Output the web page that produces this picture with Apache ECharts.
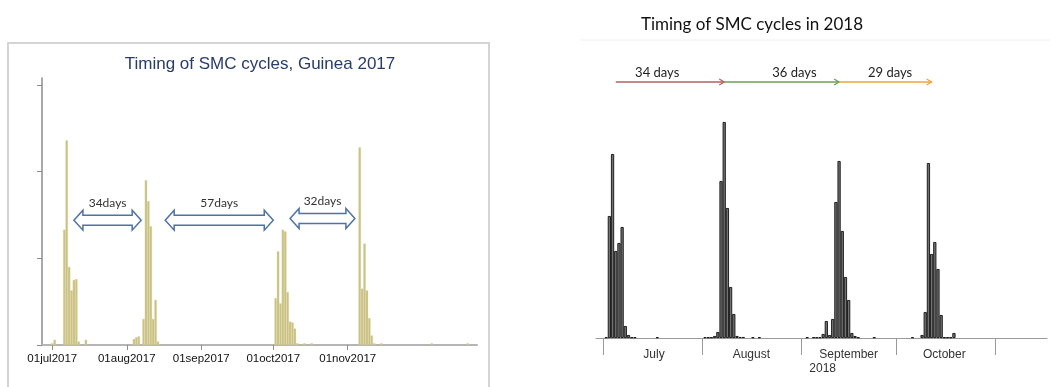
<!DOCTYPE html>
<html>
<head>
<meta charset="utf-8">
<title>Timing of SMC cycles</title>
<script src="https://cdn.jsdelivr.net/npm/echarts@6/dist/echarts.min.js"></script>
<style>
html, body { margin: 0; padding: 0; background: #fff; }
#echarts { width: 1050px; height: 387px; }
</style>
</head>
<body>
<div id="echarts"></div>
<script>
// ---- Guinea 2017 (left panel), daily counts ----
var dates2017 = ['2017-07-01','2017-07-02','2017-07-06','2017-07-07','2017-07-08','2017-07-09','2017-07-10','2017-07-11','2017-07-12','2017-07-15',
    '2017-08-04','2017-08-05','2017-08-06','2017-08-08','2017-08-09','2017-08-10','2017-08-11','2017-08-12','2017-08-13','2017-08-14',
    '2017-10-02','2017-10-03','2017-10-04','2017-10-05','2017-10-06','2017-10-07','2017-10-08','2017-10-09','2017-10-10','2017-10-11','2017-10-14','2017-10-17',
    '2017-11-06','2017-11-07','2017-11-08','2017-11-09','2017-11-10','2017-11-11','2017-11-12','2017-11-15','2017-12-06','2017-12-21'];
var values2017 = [2, 6, 133, 236, 90, 63, 75, 76, 4, 6,
    7, 9, 10, 30, 190, 166, 137, 30, 52, 4,
    54, 108, 48, 133, 131, 61, 27, 26, 19, 2, 2, 2,
    228, 65, 117, 63, 31, 11, 2, 2, 2, 2];
var axisRange2017 = ['2017-06-26 17:00', '2017-12-24 20:00'];
var tickDates2017 = ['2017-07-01', '2017-08-01', '2017-09-01', '2017-10-01', '2017-11-01'];
var tickLabels2017 = ['01jul2017', '01aug2017', '01sep2017', '01oct2017', '01nov2017'];
var yTicks2017 = [0, 100, 200, 300];
// gaps between cycles (double arrows)
var gapStart2017 = ['2017-07-10', '2017-08-17', '2017-10-08'];
var gapEnd2017 = ['2017-08-07', '2017-10-01', '2017-11-04'];
var gapLevel2017 = [144, 144, 146];
var gapLabels2017 = ['34days', '57days', '32days'];

// ---- 2018 (right panel) ----
var dates2018 = ['2018-07-02','2018-07-03','2018-07-04','2018-07-05','2018-07-06','2018-07-07','2018-07-08','2018-07-09','2018-07-10','2018-07-11','2018-07-18',
    '2018-08-02','2018-08-03','2018-08-04','2018-08-05','2018-08-06','2018-08-07','2018-08-08','2018-08-09','2018-08-10','2018-08-11','2018-08-12','2018-08-13','2018-08-14','2018-08-17','2018-08-19',
    '2018-09-03','2018-09-05','2018-09-06','2018-09-07','2018-09-08','2018-09-09','2018-09-10','2018-09-11','2018-09-12','2018-09-13','2018-09-14','2018-09-15','2018-09-16','2018-09-17','2018-09-18','2018-09-19','2018-09-24',
    '2018-10-06','2018-10-09','2018-10-10','2018-10-11','2018-10-12','2018-10-13','2018-10-14','2018-10-15','2018-10-16','2018-10-17','2018-10-18','2018-10-19'];
var values2018 = [0.7, 122, 184, 87, 95, 111, 12, 3, 0.7, 0.7, 0.7,
    0.7, 0.7, 0.7, 2, 6, 157, 216, 130, 51, 24, 2, 1, 1, 0.7, 0.7,
    0.7, 0.7, 0.7, 0.7, 4, 17, 3, 19, 136, 177, 107, 61, 38, 5, 2, 0.7, 0.7,
    0.7, 3, 26, 175, 84, 96, 69, 23, 0.7, 0.7, 0.7, 5];
var axisRange2018 = ['2018-06-28 19:30', '2018-11-17 04:00'];
var monthStarts2018 = ['2018-07-01', '2018-08-01', '2018-09-01', '2018-10-01', '2018-11-01'];
var monthLabelDates2018 = ['2018-07-17', '2018-08-16 12:00', '2018-09-16', '2018-10-16'];
var monthLabels2018 = ['July', 'August', 'September', 'October'];
var yearLabel2018 = '2018';
// intervals between cycles (coloured arrows)
var cycleStart2018 = ['2018-07-05', '2018-08-08', '2018-09-13'];
var cycleEnd2018 = ['2018-08-08', '2018-09-13', '2018-10-12'];
var cycleLabelAt2018 = ['2018-07-18', '2018-08-30', '2018-09-29'];
var cycleLabels2018 = ['34 days', '36 days', '29 days'];
var cycleLevel2018 = 256;
var cycleColors2018 = ['#b3605e', '#6f9f52', '#eea43c'];

// date string -> day number (UTC days), so a plain value axis can be used
function dayNum(s) {
    var p = s.split(/[- :]/);
    return Date.UTC(+p[0], +p[1] - 1, +p[2], +(p[3] || 0), +(p[4] || 0)) / 864e5;
}

window.onload = function () {
    function labelFor(dates, labels) {
        var nums = dates.map(dayNum);
        return function (value) {
            for (var i = 0; i < nums.length; i++) {
                if (Math.abs(nums[i] - value) < 1e-6) return labels[i];
            }
            return '';
        };
    }
    var monthFmt = labelFor(monthLabelDates2018, monthLabels2018);

    var grid2017 = { left: 42, top: 78, width: 435, height: 267 };
    var grid2018 = { left: 596, top: 60, width: 451, height: 285 };
    // one day wide bars
    var dayPx2017 = grid2017.width / (dayNum(axisRange2017[1]) - dayNum(axisRange2017[0]));
    var dayPx2018 = grid2018.width / (dayNum(axisRange2018[1]) - dayNum(axisRange2018[0]));

    var bars2017 = dates2017.map(function (d, i) { return [dayNum(d), values2017[i]]; });
    var bars2018 = dates2018.map(function (d, i) { return [dayNum(d), values2018[i]]; });
    var gaps2017 = gapStart2017.map(function (d, i) { return [dayNum(d), dayNum(gapEnd2017[i]), gapLevel2017[i]]; });
    var cycles2018 = cycleStart2018.map(function (d, i) {
        return [dayNum(d), dayNum(cycleEnd2018[i]), cycleLevel2018, dayNum(cycleLabelAt2018[i])];
    });

    var option = {
        animation: false,
        backgroundColor: '#fff',
        title: [{
            text: 'Timing of SMC cycles, Guinea 2017',
            left: 260, top: 56, padding: 0, textAlign: 'center',
            textStyle: { fontFamily: 'Liberation Sans', fontSize: 17, fontWeight: 'normal', color: '#283c6a' }
        }, {
            text: 'Timing of SMC cycles in 2018',
            left: 752, top: 16, padding: 0, textAlign: 'center',
            textStyle: { fontFamily: 'Lato', fontSize: 17, fontWeight: 'normal', color: '#111' }
        }],
        graphic: [
            { type: 'rect', shape: { x: 8, y: 43, width: 481, height: 360 }, style: { fill: 'none', stroke: '#d4d4d4', lineWidth: 2 }, silent: true },
            { type: 'line', shape: { x1: 580, y1: 40, x2: 1050, y2: 40 }, style: { stroke: '#f0f0f0', lineWidth: 1 }, silent: true }
        ],
        grid: [
            { left: grid2017.left, top: grid2017.top, width: grid2017.width, height: grid2017.height, outerBoundsMode: 'none', containLabel: false },
            { left: grid2018.left, top: grid2018.top, width: grid2018.width, height: grid2018.height, outerBoundsMode: 'none', containLabel: false }
        ],
        xAxis: [{
            type: 'value', gridIndex: 0,
            min: dayNum(axisRange2017[0]), max: dayNum(axisRange2017[1]),
            splitLine: { show: false },
            axisLine: { lineStyle: { color: '#b5b5b5', width: 2 } },
            axisTick: { customValues: tickDates2017.map(dayNum), length: 5, lineStyle: { color: '#8c8c8c' } },
            axisLabel: {
                customValues: tickDates2017.map(dayNum), margin: 8,
                formatter: labelFor(tickDates2017, tickLabels2017),
                fontFamily: 'Liberation Sans', fontSize: 11.5, color: '#111'
            }
        }, {
            type: 'value', gridIndex: 1,
            min: dayNum(axisRange2018[0]), max: dayNum(axisRange2018[1]),
            splitLine: { show: false },
            axisLine: { lineStyle: { color: '#9a9a9a', width: 1 } },
            axisTick: { customValues: monthStarts2018.map(dayNum), length: 17, lineStyle: { color: '#9a9a9a' } },
            axisLabel: {
                customValues: monthLabelDates2018.map(dayNum), margin: 3,
                formatter: function (v) {
                    var s = monthFmt(v);
                    return s === 'September' ? s + '\n{yr|' + yearLabel2018 + '}' : s;
                },
                fontFamily: 'Liberation Sans', fontSize: 12, color: '#333', lineHeight: 14,
                rich: { yr: { fontFamily: 'Liberation Sans', fontSize: 12, color: '#333', lineHeight: 14, padding: [0, 52, 0, 0] } }
            }
        }],
        yAxis: [{
            type: 'value', gridIndex: 0, min: 0, max: 308,
            splitLine: { show: false },
            axisLine: { show: true, lineStyle: { color: '#8c8c8c', width: 1.5 } },
            axisTick: { show: true, customValues: yTicks2017, length: 5, lineStyle: { color: '#8c8c8c' } },
            axisLabel: { show: false }
        }, {
            type: 'value', gridIndex: 1, min: -7, max: 278, show: false,
            splitLine: { show: false }
        }],
        series: [{
            type: 'bar', xAxisIndex: 0, yAxisIndex: 0,
            data: bars2017,
            barWidth: dayPx2017,
            itemStyle: { color: '#cac283', borderColor: '#d8d3a2', borderWidth: 0.3 }
        }, {
            type: 'bar', xAxisIndex: 1, yAxisIndex: 1,
            data: bars2018,
            barWidth: dayPx2018,
            itemStyle: { color: '#727272', borderColor: '#111', borderWidth: 0.9 }
        }, {
            type: 'custom', xAxisIndex: 0, yAxisIndex: 0, silent: true, z: 5,
            dimensions: ['start', 'end', 'y'],
            encode: { x: [0, 1], y: 2 },
            data: gaps2017,
            renderItem: function (params, api) {
                var a = api.coord([api.value(0), api.value(2)]);
                var b = api.coord([api.value(1), api.value(2)]);
                var y = a[1], x0 = a[0], x1 = b[0];
                var hl = 9, hh = 10, sh = 5;
                var pts = [[x0, y], [x0 + hl, y - hh], [x0 + hl, y - sh], [x1 - hl, y - sh], [x1 - hl, y - hh],
                    [x1, y], [x1 - hl, y + hh], [x1 - hl, y + sh], [x0 + hl, y + sh], [x0 + hl, y + hh]];
                return {
                    type: 'group', children: [
                        { type: 'polygon', shape: { points: pts }, style: { fill: '#fff', stroke: '#4f72a4', lineWidth: 1.5 } },
                        { type: 'text', x: (x0 + x1) / 2, y: y - 17, style: { text: gapLabels2017[params.dataIndex], fill: '#333', fontFamily: 'Lato', fontSize: 12, align: 'center', verticalAlign: 'middle' } }
                    ]
                };
            }
        }, {
            type: 'custom', xAxisIndex: 1, yAxisIndex: 1, silent: true, z: 5,
            dimensions: ['start', 'end', 'y', 'labelAt'],
            encode: { x: [0, 1, 3], y: 2 },
            data: cycles2018,
            renderItem: function (params, api) {
                var a = api.coord([api.value(0), api.value(2)]);
                var b = api.coord([api.value(1), api.value(2)]);
                var t = api.coord([api.value(3), api.value(2)]);
                var c = cycleColors2018[params.dataIndex];
                return {
                    type: 'group', children: [
                        { type: 'line', shape: { x1: a[0], y1: a[1], x2: b[0], y2: b[1] }, style: { stroke: c, lineWidth: 1.3 } },
                        { type: 'polyline', shape: { points: [[b[0] - 5, b[1] - 3], [b[0], b[1]], [b[0] - 5, b[1] + 3]] }, style: { stroke: c, lineWidth: 1.3, fill: 'none' } },
                        { type: 'text', x: t[0], y: t[1] - 9, style: { text: cycleLabels2018[params.dataIndex], fill: '#222', fontFamily: 'Lato', fontSize: 13, align: 'center', verticalAlign: 'middle' } }
                    ]
                };
            }
        }]
    };

    var mychart = echarts.init(document.getElementById('echarts'));
    mychart.setOption(option);
};
</script>
</body>
</html>
